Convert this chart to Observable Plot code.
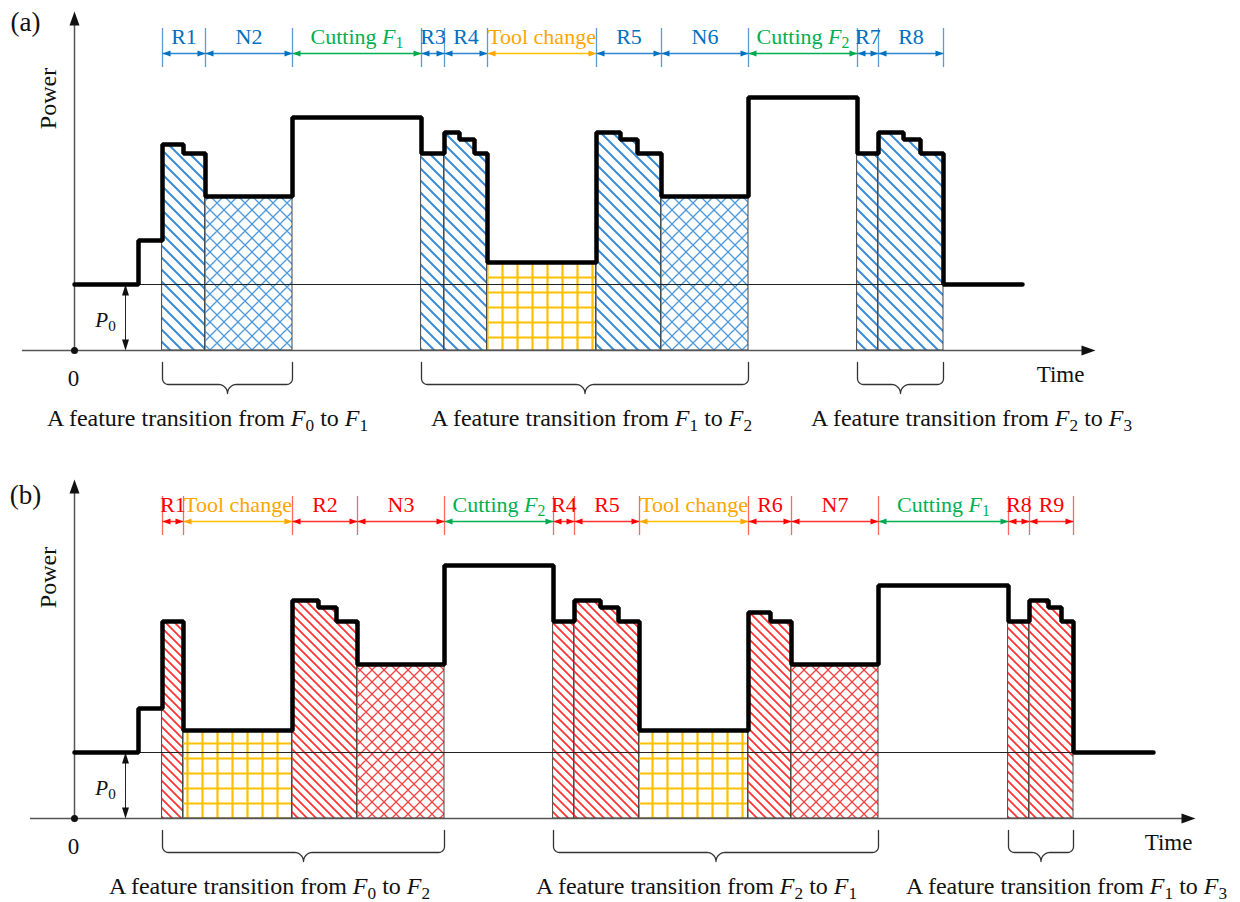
<!DOCTYPE html>
<html><head><meta charset="utf-8">
<script src="https://cdn.jsdelivr.net/npm/d3@7"></script>
<script src="https://cdn.jsdelivr.net/npm/@observablehq/plot@0.6"></script>
<style>html,body{margin:0;padding:0;background:#fff}svg{display:block}svg text,svg tspan{font-family:"Liberation Serif",serif}</style>
</head><body>
<svg width="0" height="0" style="position:absolute">
<defs>
<pattern id="blueDiag" patternUnits="userSpaceOnUse" width="12" height="12">
<path d="M-1,-1L13,13M-7,5L7,19M5,-7L19,7" stroke="#3A8CD6" stroke-width="2" fill="none"/>
</pattern>
<pattern id="blueCross" patternUnits="userSpaceOnUse" width="14" height="14">
<path d="M-1,-1L15,15M-8,6L8,22M6,-8L22,8M-1,15L15,-1M-8,8L8,-8M6,22L22,6" stroke="#4A98DC" stroke-width="1.3" fill="none"/>
</pattern>
<pattern id="redDiag" patternUnits="userSpaceOnUse" width="9" height="9">
<path d="M-1,-1L10,10M-5.5,3.5L5.5,14.5M3.5,-5.5L14.5,5.5" stroke="#FF3333" stroke-width="1.8" fill="none"/>
</pattern>
<pattern id="redCross" patternUnits="userSpaceOnUse" width="12" height="12">
<path d="M-1,-1L13,13M-7,5L7,19M5,-7L19,7M-1,13L13,-1M-7,7L7,-7M5,19L19,5" stroke="#FF4040" stroke-width="1.3" fill="none"/>
</pattern>
<pattern id="gridOrange" patternUnits="userSpaceOnUse" width="15" height="15">
<path d="M7.5,0V15M0,7.5H15" stroke="#FFC000" stroke-width="2.2" fill="none"/>
</pattern>
</defs>
</svg>
<div id="chart"></div>
<script>
// ---------------- data ----------------
const P0 = 6.6;
// panel (a): power step profile
const timesA = [0, 6.4, 8.8, 10.9, 13.1, 21.8, 34.7, 37.0, 38.5, 40.0, 41.3, 52.2, 54.6, 56.3, 58.7, 67.4, 78.3, 80.4, 82.9, 84.6, 86.9, 94.8];
const powerA = [6.6, 11.0, 20.6, 19.7, 15.4, 23.3, 19.7, 21.8, 21.1, 19.7, 8.8, 21.8, 21.1, 19.7, 15.4, 25.3, 19.7, 21.8, 21.1, 19.7, 6.6];
const phaseBoundsA = [8.8, 13.1, 21.8, 34.7, 37.0, 41.3, 52.2, 58.7, 67.4, 78.3, 80.4, 86.9];
const phaseLabelsA = ["R1", "N2", "Cutting F_1", "R3", "R4", "Tool change", "R5", "N6", "Cutting F_2", "R7", "R8"];
const phaseKindsA = ["R", "N", "C", "R", "R", "T", "R", "N", "C", "R", "R"];
const braceStartA = [8.8, 34.7, 78.3];
const braceEndA = [21.8, 67.4, 86.9];
const captionsA = ["A feature transition from F_0 to F_1", "A feature transition from F_1 to F_2", "A feature transition from F_2 to F_3"];
const captionAtA = [13.3, 51.7, 89.7];

// panel (b)
const timesB = [0, 6.4, 8.8, 10.9, 21.8, 24.4, 26.2, 28.3, 37.0, 47.9, 50.0, 52.6, 54.4, 56.5, 67.4, 69.6, 71.7, 80.4, 93.4, 95.5, 97.4, 98.7, 99.9, 107.9];
const powerB = [6.6, 11.0, 19.7, 8.8, 21.8, 21.1, 19.7, 15.4, 25.3, 19.7, 21.8, 21.1, 19.7, 8.8, 20.6, 19.7, 15.4, 23.3, 19.7, 21.8, 21.1, 19.7, 6.6];
const phaseBoundsB = [8.8, 10.9, 21.8, 28.3, 37.0, 47.9, 50.0, 56.5, 67.4, 71.7, 80.4, 93.4, 95.5, 99.9];
const phaseLabelsB = ["R1", "Tool change", "R2", "N3", "Cutting F_2", "R4", "R5", "Tool change", "R6", "N7", "Cutting F_1", "R8", "R9"];
const phaseKindsB = ["R", "T", "R", "N", "C", "R", "R", "T", "R", "N", "C", "R", "R"];
const braceStartB = [8.8, 47.9, 93.4];
const braceEndB = [37.0, 80.4, 99.9];
const captionsB = ["A feature transition from F_0 to F_2", "A feature transition from F_2 to F_1", "A feature transition from F_1 to F_3"];
const captionAtB = [19.5, 62.2, 99.2];

// ---------------- helpers ----------------
const ns = "http://www.w3.org/2000/svg";
const SERIF = "Liberation Serif";
function head(dir, len, hw) {
  return {draw(ctx) {
    const p = {
      right: [[0, 0], [-len, -hw], [-len, hw]],
      left: [[0, 0], [len, -hw], [len, hw]],
      up: [[0, 0], [-hw, len], [hw, len]],
      down: [[0, 0], [-hw, -len], [hw, -len]]
    }[dir];
    ctx.moveTo(p[0][0], p[0][1]); ctx.lineTo(p[1][0], p[1][1]); ctx.lineTo(p[2][0], p[2][1]); ctx.closePath();
  }};
}
function stepPoints(T, P) {
  const pts = P.map((p, i) => ({t: T[i], p}));
  pts.push({t: T[T.length - 1], p: P[P.length - 1]});
  return pts;
}
function regionPoints(T, P, s, e) {
  const pts = [];
  for (let i = 0; i < P.length; i++) {
    const a = Math.max(T[i], s), b = Math.min(T[i + 1], e);
    if (b - a > 1e-9) pts.push({t: a, p: P[i]});
  }
  pts.push({t: e, p: pts[pts.length - 1].p});
  return pts;
}
function bracePoints(x0, x1, id) {
  const yTop = -1.2, yMid = -3.4, r = 0.6, r2 = 0.9, xc = (x0 + x1) / 2, pts = [];
  const arc = (cx, cy, rr, a0, a1) => { for (let k = 0; k <= 8; k++) { const a = (a0 + (a1 - a0) * k / 8) * Math.PI / 180; pts.push({t: cx + rr * Math.cos(a), p: cy + rr * Math.sin(a), id}); } };
  pts.push({t: x0, p: yTop, id});
  arc(x0 + r, yMid + r, r, 180, 270);
  arc(xc - r2, yMid - r2, r2, 90, 0);
  arc(xc + r2, yMid - r2, r2, 180, 90);
  arc(x1 - r, yMid + r, r, 270, 360);
  pts.push({t: x1, p: yTop, id});
  return pts;
}
function richify(svg) {
  svg.querySelectorAll("text").forEach(el => {
    const s = el.textContent;
    if (!s.includes("_")) return;
    const fs = parseFloat(getComputedStyle(el).fontSize);
    const parts = s.split(/([A-Z])_(\d)/);
    el.textContent = "";
    let lowered = 0;
    const add = (txt, attrs) => { const t = document.createElementNS(ns, "tspan"); for (const k in attrs) t.setAttribute(k, attrs[k]); t.textContent = txt; el.appendChild(t); };
    parts.forEach((txt, i) => {
      const k = i % 3;
      if (k === 2) { const d = +(fs * 0.22).toFixed(2); add(txt, {"font-size": (fs * 0.72).toFixed(2), dy: d}); lowered = d; return; }
      if (!txt) return;
      const a = k === 1 ? {"font-style": "italic"} : {};
      if (lowered) { a.dy = -lowered; lowered = 0; }
      add(txt, a);
    });
  });
}

const hLeft = head("left", 8, 3), hRight = head("right", 8, 3);
const axRight = head("right", 14, 5), axUp = head("up", 14, 5);
const pUp = head("up", 11, 3.5), pDown = head("down", 11, 3.5);

function panel(o) {
  const {T, P, bounds, labels, kinds, braceS, braceE, captions, captionAt, theme, tag, xAxisStart, xAxisEnd, timeAt, powerAt, tagY, height, y0} = o;
  const phases = labels.map((label, i) => ({label, kind: kinds[i], s: bounds[i], e: bounds[i + 1]}));
  const patt = {R: theme.diag, N: theme.cross, T: "url(#gridOrange)"};
  const textColor = {R: theme.text, N: theme.text, C: "#00B050", T: "#FFA500"};
  const lineColor = {R: theme.line, N: theme.line, C: "#00B050", T: "#FFC000"};
  const headColor = {R: theme.head, N: theme.head, C: "#00A84F", T: "#FFA500"};
  const marks = [];
  for (const ph of phases) {
    if (!patt[ph.kind]) continue;
    marks.push(Plot.areaY(regionPoints(T, P, ph.s, ph.e), {x: "t", y: "p", curve: "step-after", fill: patt[ph.kind], stroke: "#444", strokeWidth: 1}));
  }
  const tEnd = T[T.length - 1];
  const txt = {fontFamily: SERIF, fill: "#111"};
  marks.push(
    Plot.ruleY([P0], {x1: 0, x2: tEnd, stroke: "#222", strokeWidth: 1}),
    Plot.ruleY([0], {x1: xAxisStart, x2: xAxisEnd - 1, stroke: "#555", strokeWidth: 1.5}),
    Plot.dot([{t: xAxisEnd, p: 0}], {x: "t", y: "p", symbol: axRight, fill: "#111"}),
    Plot.ruleX([0], {y1: 0, y2: 32.8, stroke: "#555", strokeWidth: 1.5}),
    Plot.dot([{t: 0, p: 33.9}], {x: "t", y: "p", symbol: axUp, fill: "#111"}),
    Plot.dot([{t: 0, p: 0}], {x: "t", y: "p", r: 3.5, fill: "#111"}),
    Plot.ruleX([5.1], {y1: 0.5, y2: P0 - 0.5, stroke: "#222", strokeWidth: 1}),
    Plot.dot([{t: 5.1, p: P0}], {x: "t", y: "p", symbol: pUp, fill: "#111"}),
    Plot.dot([{t: 5.1, p: 0}], {x: "t", y: "p", symbol: pDown, fill: "#111"}),
    Plot.line(stepPoints(T, P), {x: "t", y: "p", curve: "step-after", stroke: "#000", strokeWidth: 4.5, strokeLinejoin: "miter"}),
    // top phase annotations
    Plot.ruleX(bounds, {x: d => d, y1: 28.3, y2: 32.2, stroke: theme.tick, strokeWidth: 1.3}),
    Plot.link(phases, {x1: "s", x2: "e", y1: 29.7, y2: 29.7, stroke: d => lineColor[d.kind], strokeWidth: 1.5}),
    Plot.dot(phases, {x: "s", y: 29.7, symbol: hLeft, fill: d => headColor[d.kind]}),
    Plot.dot(phases, {x: "e", y: 29.7, symbol: hRight, fill: d => headColor[d.kind]}),
    Plot.text(phases, {x: d => (d.s + d.e) / 2, y: 30.7, text: "label", fill: d => textColor[d.kind], fontFamily: SERIF, fontSize: 22, lineAnchor: "bottom"}),
    // braces and captions
    Plot.line(braceS.flatMap((s, i) => bracePoints(s, braceE[i], i)), {x: "t", y: "p", z: "id", stroke: "#333", strokeWidth: 1.3}),
    Plot.text(captions, {...txt, x: (d, i) => captionAt[i], y: -7.5, text: d => d, fontSize: 24, lineAnchor: "bottom"}),
    Plot.text(["Time"], {...txt, x: timeAt, y: -3.1, text: d => d, fontSize: 23, lineAnchor: "bottom"}),
    Plot.text(["0"], {...txt, x: -0.1, y: -3.5, text: d => d, fontSize: 23, lineAnchor: "bottom"}),
    Plot.text(["Power"], {...txt, x: -2.6, y: powerAt, text: d => d, fontSize: 24, rotate: -90}),
    Plot.text([tag], {...txt, x: -4.9, y: tagY, text: d => d, fontSize: 27}),
    Plot.text(["P_0"], {...txt, x: 3.1, y: 2.4, text: d => d, fontSize: 21, lineAnchor: "bottom"})
  );
  return Plot.plot({
    width: 1240,
    height,
    x: {domain: [0, 100], range: [74, 1074], axis: null},
    y: {domain: [0, 30], range: [y0, y0 - 300], axis: null},
    color: {type: "identity"},
    style: {fontFamily: "'Liberation Serif', serif", background: "white", overflow: "visible"},
    marks
  });
}

const root = document.getElementById("chart");
const svgA = panel({
  T: timesA, P: powerA, bounds: phaseBoundsA, labels: phaseLabelsA, kinds: phaseKindsA,
  braceS: braceStartA, braceE: braceEndA, captions: captionsA, captionAt: captionAtA,
  theme: {diag: "url(#blueDiag)", cross: "url(#blueCross)", tick: "#5B9BD5", line: "#2E86D0", head: "#0070C0", text: "#0070C0"},
  tag: "(a)", xAxisStart: -5.2, xAxisEnd: 102.1, timeAt: 98.6, powerAt: 25.2, tagY: 32.8, height: 466, y0: 350
});
root.append(svgA);
richify(svgA);
const svgB = panel({
  T: timesB, P: powerB, bounds: phaseBoundsB, labels: phaseLabelsB, kinds: phaseKindsB,
  braceS: braceStartB, braceE: braceEndB, captions: captionsB, captionAt: captionAtB,
  theme: {diag: "url(#redDiag)", cross: "url(#redCross)", tick: "#FF6666", line: "#FF3030", head: "#FF0000", text: "#FF0000"},
  tag: "(b)", xAxisStart: -4.4, xAxisEnd: 112.1, timeAt: 109.4, powerAt: 24.1, tagY: 32.3, height: 436, y0: 352
});
root.append(svgB);
richify(svgB);
</script>
</body></html>
